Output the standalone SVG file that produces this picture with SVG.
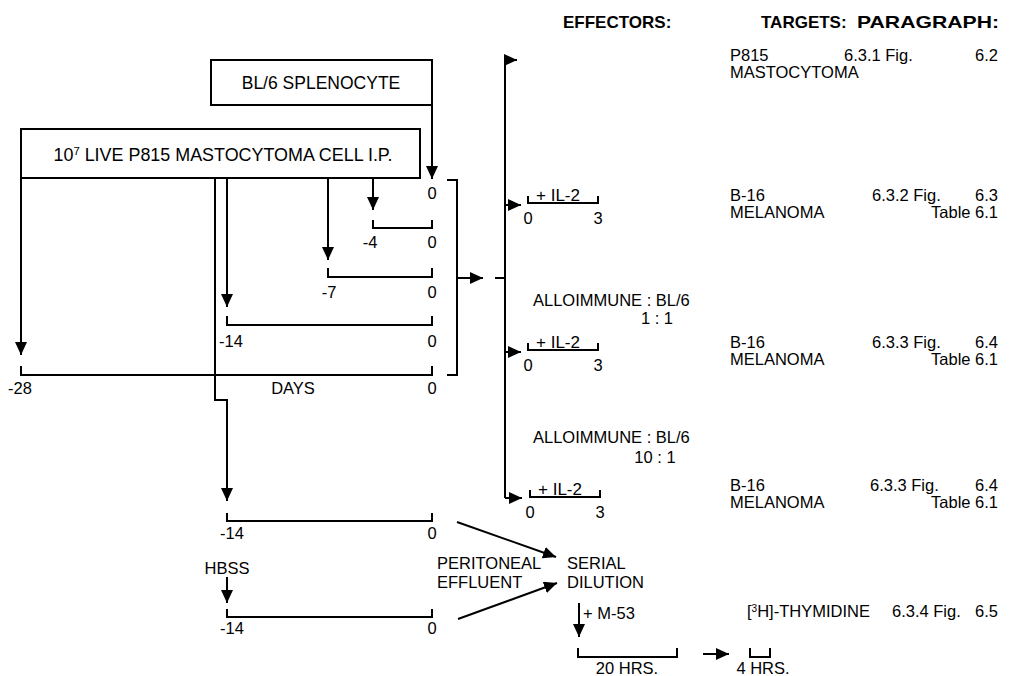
<svg xmlns="http://www.w3.org/2000/svg" width="1013" height="676" viewBox="0 0 1013 676">
<defs>
<marker id="ah" markerUnits="userSpaceOnUse" markerWidth="13" markerHeight="12" refX="13" refY="6" orient="auto">
<path d="M0,0 L13,6 L0,12 z" fill="#000"/>
</marker>
<style>
text{font-family:"Liberation Sans",Arial,Helvetica,sans-serif;font-size:16.5px;fill:#000}
.b{font-weight:bold;font-size:17px}
.m{text-anchor:middle}
.e{text-anchor:end}
.big{font-size:17.5px}
.il{font-size:17px}
.ln{fill:none;stroke:#000;stroke-width:2}
.ar{fill:none;stroke:#000;stroke-width:2;marker-end:url(#ah)}
.box{fill:#fff;stroke:#000;stroke-width:2}
</style>
</defs>
<rect width="1013" height="676" fill="#fff"/>

<g id="headers">
<text class="b" x="563" y="28">EFFECTORS:</text>
<text class="b" x="761" y="28">TARGETS:</text>
<text class="b" x="857" y="28" textLength="142" lengthAdjust="spacingAndGlyphs">PARAGRAPH:</text>
</g>

<g id="connectors">
<path class="ar" d="M432,105 V179"/>
<path class="ar" d="M21,178 V355"/>
<path class="ar" d="M215,178 V400 H227 V501"/>
<path class="ar" d="M227,178 V307"/>
<path class="ar" d="M328,178 V260"/>
<path class="ar" d="M373,178 V210"/>
<path class="ln" d="M373,220 V228 H432 V220"/>
<path class="ln" d="M328,268 V277 H432 V268"/>
<path class="ln" d="M227,316 V325 H432 V316"/>
<path class="ln" d="M21,366 V375 H432 V366"/>
<path class="ln" d="M447,180 H457 V375 H447"/>
<path class="ar" d="M457,278 H483"/>
<path class="ln" d="M495,278 H505"/>
<path class="ar" d="M505,498 V60 H517"/>
<path class="ar" d="M505,498 H522"/>
<path class="ar" d="M505,205 H521"/>
<path class="ar" d="M505,352 H521"/>
<path class="ln" d="M528,196 V203 H598 V196"/>
<path class="ln" d="M528,343 V350 H598 V343"/>
<path class="ln" d="M530,490 V497 H600 V490"/>
<path class="ln" d="M227,513 V521 H432 V513"/>
<path class="ar" d="M227,577 V603"/>
<path class="ln" d="M227,609 V617 H432 V609"/>
<path class="ar" d="M457,522 L556,557"/>
<path class="ar" d="M458,619 L557,583"/>
<path class="ar" d="M579,603 V637"/>
<path class="ln" d="M578,648 V657 H677 V648"/>
<path class="ar" d="M703,654 H729"/>
<path class="ln" d="M750,648 V657 H770 V648"/>
</g>

<g id="splenocyte">
<rect class="box" x="211" y="60" width="221" height="45"/>
<text class="m big" x="321" y="89">BL/6 SPLENOCYTE</text>
</g>

<g id="p815-injection">
<rect class="box" x="21" y="129" width="399" height="49"/>
<text class="m big" x="223" y="161" textLength="339" lengthAdjust="spacingAndGlyphs">10<tspan font-size="11" baseline-shift="super">7</tspan> LIVE P815 MASTOCYTOMA CELL I.P.</text>
</g>

<g id="timeline-labels">
<text class="m" x="432" y="199">0</text>
<text class="m" x="370" y="248">-4</text>
<text class="m" x="432" y="248">0</text>
<text class="m" x="329" y="298">-7</text>
<text class="m" x="432" y="298">0</text>
<text class="m" x="231" y="347">-14</text>
<text class="m" x="432" y="347">0</text>
<text class="m" x="20" y="394">-28</text>
<text class="m" x="293" y="394">DAYS</text>
<text class="m" x="432" y="394">0</text>
</g>

<g id="effector1">
<text class="m il" x="558" y="201">+ IL-2</text>
<text class="m" x="528" y="224">0</text>
<text class="m" x="598" y="224">3</text>
</g>

<g id="effector2">
<text x="533" y="306">ALLOIMMUNE  : BL/6</text>
<text class="m" x="657" y="324">1 : 1</text>
<text class="m il" x="558" y="348">+ IL-2</text>
<text class="m" x="528" y="371">0</text>
<text class="m" x="598" y="371">3</text>
</g>

<g id="effector3">
<text x="533" y="443">ALLOIMMUNE : BL/6</text>
<text class="m" x="655" y="463">10 : 1</text>
<text class="m il" x="560" y="495">+ IL-2</text>
<text class="m" x="530" y="518">0</text>
<text class="m" x="600" y="518">3</text>
</g>

<g id="targets">
<text x="730" y="61">P815</text>
<text x="730" y="78">MASTOCYTOMA</text>
<text x="730" y="201">B-16</text>
<text x="730" y="218">MELANOMA</text>
<text x="730" y="348">B-16</text>
<text x="730" y="365">MELANOMA</text>
<text x="730" y="491">B-16</text>
<text x="730" y="508">MELANOMA</text>
<text x="747" y="617">[<tspan font-size="10" baseline-shift="super">3</tspan>H]-THYMIDINE</text>
</g>

<g id="paragraphs">
<text x="844" y="61">6.3.1 Fig.</text>
<text class="e" x="998" y="61">6.2</text>
<text x="872" y="201">6.3.2 Fig.</text>
<text class="e" x="998" y="201">6.3</text>
<text class="e" x="998" y="218">Table 6.1</text>
<text x="872" y="348">6.3.3 Fig.</text>
<text class="e" x="998" y="348">6.4</text>
<text class="e" x="998" y="365">Table 6.1</text>
<text x="870" y="491">6.3.3 Fig.</text>
<text class="e" x="998" y="491">6.4</text>
<text class="e" x="998" y="508">Table 6.1</text>
<text x="892" y="617">6.3.4  Fig.</text>
<text class="e" x="998" y="617">6.5</text>
</g>

<g id="peritoneal">
<text class="m" x="232" y="539">-14</text>
<text class="m" x="432" y="539">0</text>
<text class="m" x="227" y="574">HBSS</text>
<text class="m" x="232" y="634">-14</text>
<text class="m" x="432" y="634">0</text>
<text x="437" y="569">PERITONEAL</text>
<text x="437" y="588">EFFLUENT</text>
</g>

<g id="serial-dilution">
<text x="567" y="569">SERIAL</text>
<text x="567" y="588">DILUTION</text>
<text x="583" y="619">+ M-53</text>
<text class="m" x="627" y="674">20 HRS.</text>
<text class="m" x="763" y="674">4 HRS.</text>
</g>
</svg>
